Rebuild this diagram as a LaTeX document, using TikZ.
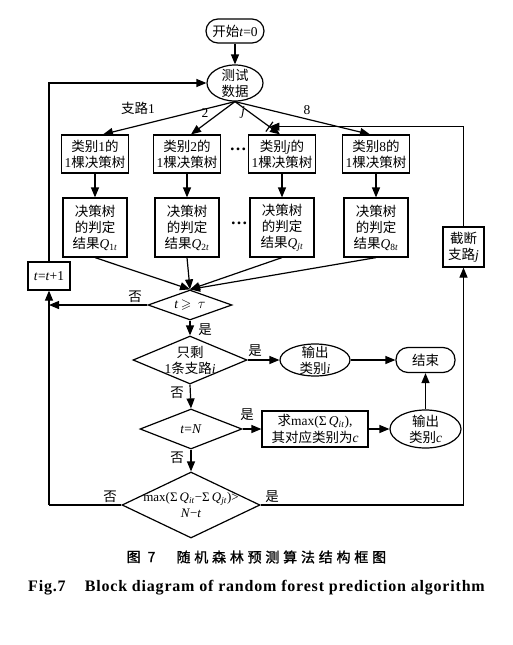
\documentclass[tikz,border=0pt]{standalone}
\usepackage{fontspec}
\usepackage{amssymb}
\setmainfont{Liberation Serif}
\newfontfamily\cjk{Noto Sans CJK SC}
\newfontfamily\cjkcap[LetterSpace=27,FakeBold=1.2]{Noto Sans CJK SC}
\newfontfamily\engcap[LetterSpace=5]{Liberation Serif}
\usetikzlibrary{shapes.geometric,arrows.meta,calc}
\newcommand\zh[1]{{\cjk #1}}
\tikzset{
  base/.style={draw, line width=1.2pt, align=center, inner sep=0pt, font=\fontsize{13.5}{16}\selectfont},
  rbox/.style={base, rectangle},
  term/.style={base, rectangle, rounded corners=12pt},
  ell/.style={draw, line width=1.2pt, ellipse, inner sep=0pt},
  dia/.style={draw, line width=1.2pt, diamond, inner sep=0pt},
  lbl/.style={font=\fontsize{13.5}{16}\selectfont, inner sep=1pt, align=center},
  arr/.style={line width=1.2pt, -{Triangle[length=10pt,width=8pt]}},
  ln/.style={line width=1.2pt},
  dotsty/.style={inner sep=0pt, font=\fontsize{17}{17}\selectfont\bfseries},
}
\begin{document}
\begin{tikzpicture}[x=1pt,y=-1pt]
\fill[white] (0,0) rectangle (513,645);
\useasboundingbox (0,0) rectangle (513,645);

% top
\node[term, minimum width=58, minimum height=24] (start) at (235,31) {\zh{开始}\textit{t}=0};
\node[ell, minimum width=56, minimum height=36] (data) at (235,83) {};
\node[lbl] (datat) at (data) {\zh{测试}\\\zh{数据}};

% row 1
\node[rbox, minimum width=67, minimum height=38] (b1) at (95,154) {\zh{类别}1\zh{的}\\1\zh{棵决策树}};
\node[rbox, minimum width=67, minimum height=38] (b2) at (187,154) {\zh{类别}2\zh{的}\\1\zh{棵决策树}};
\node[rbox, minimum width=67, minimum height=38] (bj) at (282,154) {\zh{类别}\textit{j}\zh{的}\\1\zh{棵决策树}};
\node[rbox, minimum width=67, minimum height=38] (b8) at (376,154) {\zh{类别}8\zh{的}\\1\zh{棵决策树}};
\node[dotsty] (dots1) at (238,149) {…};

% row 2
\node[rbox, minimum width=64, minimum height=59] (r1) at (95,227.5) {\zh{决策树}\\\zh{的判定}\\\zh{结果}\textit{Q}\textsubscript{1\textit{t}}};
\node[rbox, minimum width=64, minimum height=59] (r2) at (187,227.5) {\zh{决策树}\\\zh{的判定}\\\zh{结果}\textit{Q}\textsubscript{2\textit{t}}};
\node[rbox, minimum width=64, minimum height=59] (rj) at (282,227.5) {\zh{决策树}\\\zh{的判定}\\\zh{结果}\textit{Q}\textsubscript{\textit{jt}}};
\node[rbox, minimum width=64, minimum height=59] (r8) at (376,227.5) {\zh{决策树}\\\zh{的判定}\\\zh{结果}\textit{Q}\textsubscript{8\textit{t}}};
\node[dotsty] (dots2) at (239,223) {…};

% side boxes
\node[rbox, minimum width=41, minimum height=40] (cut) at (463.5,247) {\zh{截断}\\\zh{支路}\textit{j}};
\node[rbox, minimum width=42, minimum height=28] (tinc) at (49,276) {\textit{t}=\textit{t}+1};

% decisions
\node[dia, minimum width=84, minimum height=30] (dtau) at (190,305) {};
\node[lbl] (dtaut) at (dtau) {\textit{t}$\,\geqslant\,\tau$};
\node[dia, minimum width=114, minimum height=48] (d1) at (190,360) {};
\node[lbl] (d1t) at (d1) {\zh{只剩}\\1\zh{条支路}\textit{i}};
\node[ell, minimum width=70, minimum height=32] (oi) at (315,360) {};
\node[lbl] (oit) at (oi) {\zh{输出}\\\zh{类别}\textit{i}};
\node[term, minimum width=59, minimum height=25] (end) at (425.5,360) {\zh{结束}};
\node[dia, minimum width=102, minimum height=40] (d2) at (191,429) {};
\node[lbl] (d2t) at (d2) {\textit{t}=\textit{N}};
\node[rbox, minimum width=106, minimum height=36, font=\fontsize{13.5}{17}\selectfont] (mx) at (315,429) {\zh{求}max(Σ\,\textit{Q}\textsubscript{\textit{it}}),\\\zh{其对应类别为}\textit{c}};
\node[ell, minimum width=71, minimum height=38] (oc) at (425.5,429) {};
\node[lbl] (oct) at (oc) {\zh{输出}\\\zh{类别}\textit{c}};
\node[dia, minimum width=138, minimum height=66] (d3) at (191,505) {};
\node[lbl, font=\fontsize{13}{16}\selectfont] (d3t) at (d3) {max(Σ\,\textit{Q}\textsubscript{\textit{it}}−Σ\,\textit{Q}\textsubscript{\textit{jt}})>\\\textit{N}−\textit{t}};

% coordinates
\coordinate (tj) at ($(bj.north)+(-2,0)$);
\coordinate (cutpt) at ($(data.south)!0.765!(tj)$);
\coordinate (Rtop) at (cut.north |- cutpt);
\coordinate (Ltau) at (49,305);
\coordinate (Lbot) at (49,505);
\coordinate (Rbot) at (463.5,505);

% connectors
\draw[arr] (start) -- (data);
\draw[arr] (data.south) -- ($(b1.north)+(8,0)$);
\draw[arr] (data.south) -- ($(b2.north)+(4,0)$);
\draw[arr] (data.south) -- (tj);
\draw[arr] (data.south) -- ($(b8.north)+(-6,0)$);
\draw[ln] ($(cutpt)!6pt!90:(tj)$) -- ($(cutpt)!6pt!-90:(tj)$);
\foreach \a in {1,2,j,8} { \draw[arr] (b\a) -- (r\a); \draw[arr] (r\a.south) -- (dtau.north); }
\draw[arr] (dtau.west) -- (Ltau);
\draw[arr] (Lbot) -- (tinc.south);
\draw[arr] (tinc.north) |- (data.west);
\draw[ln] (d3.west) -- (Lbot);
\draw[ln] (d3.east) -- (Rbot);
\draw[arr] (Rbot) -- (cut.south);
\draw[ln] (cut.north) -- (Rtop);
\draw[arr] (Rtop) -- (cutpt);
\draw[arr] (dtau.south) -- (d1.north);
\draw[arr] (d1.east) -- (oi.west);
\draw[arr] (oi.east) -- (end.west);
\draw[arr] (d1.south) -- (d2.north);
\draw[arr] (d2.east) -- (mx.west);
\draw[arr] (mx.east) -- (oc.west);
\draw[arr] (oc.north) -- (end.south);
\draw[arr] (d2.south) -- (d3.north);

% labels
\node[lbl] (lb1) at (138,108) {\zh{支路}1};
\node[lbl] (lb2) at (205,113) {2};
\node[lbl] (lbj) at (243,112) {\textit{j}};
\node[lbl] (lb8) at (307,110) {8};
\node[lbl] (no1) at (135,297) {\zh{否}};
\node[lbl] (yes1) at (205,330) {\zh{是}};
\node[lbl] (yes2) at (255,351) {\zh{是}};
\node[lbl] (no2) at (177,393) {\zh{否}};
\node[lbl] (yes3) at (247,415) {\zh{是}};
\node[lbl] (no3) at (177,458) {\zh{否}};
\node[lbl] (no4) at (110,497) {\zh{否}};
\node[lbl] (yes4) at (272,497) {\zh{是}};

% captions
\node[font=\fontsize{14}{16}\selectfont\cjkcap] (capa) at (141,557) {图 7};
\node[font=\fontsize{14}{16}\selectfont\cjkcap, anchor=west] (capb) at (173,557) {随机森林预测算法结构框图};
\node[font=\fontsize{16}{18}\selectfont\engcap\bfseries] (capc) at (256.5,588) {Fig.7\hspace{1.2em}Block diagram of random forest prediction algorithm};
\end{tikzpicture}
\end{document}
